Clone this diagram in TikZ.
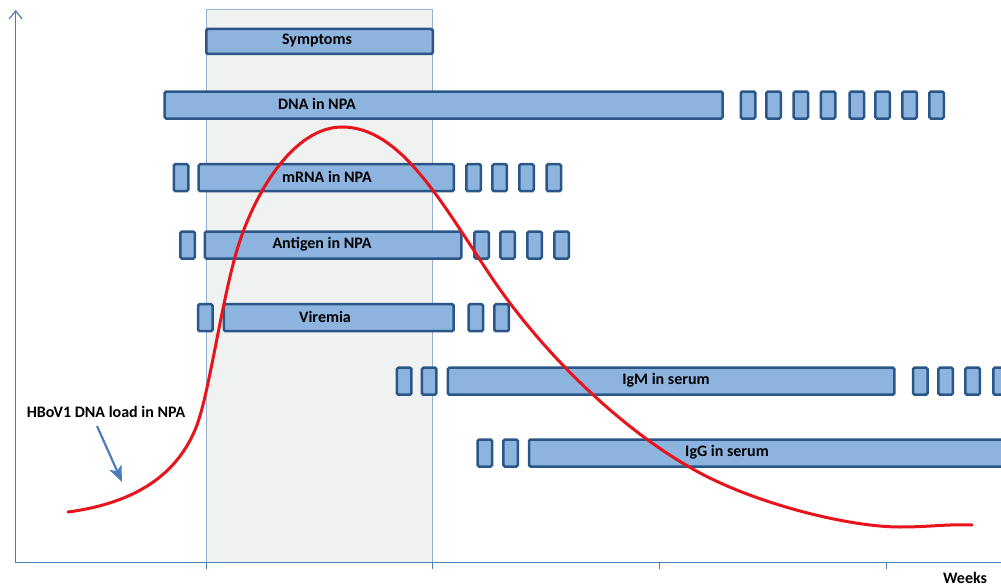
\documentclass[tikz,border=0pt]{standalone}
\usepackage{fontspec}
\setmainfont{Carlito}
\usepackage{tikz}
\usetikzlibrary{arrows.meta}

\definecolor{barfill}{HTML}{8DB3DF}
\definecolor{bardraw}{HTML}{2A5788}
\definecolor{axisblue}{HTML}{4A7EBB}
\definecolor{shadefill}{HTML}{F0F1F1}
\definecolor{shadeline}{HTML}{94B0D4}
\definecolor{loadred}{HTML}{E8141B}

\begin{document}
\begin{tikzpicture}[x=1pt, y=-1pt, semithick]
    \tikzstyle{bar}=[rectangle, draw=bardraw, fill=barfill, line width=2.5pt, rounded corners=1.5pt, minimum height=27pt, inner sep=0pt]
    \tikzstyle{blk}=[bar, minimum width=14.5pt]
    \tikzstyle{lab}=[inner sep=1pt, font=\fontsize{16}{18}\selectfont\bfseries]
    \tikzstyle{axis}=[draw=axisblue, line width=1.2pt]
    \tikzstyle{curve}=[draw=loadred, line width=3pt, line cap=round]

    \useasboundingbox (0,0) rectangle (1001,586);

    % symptomatic period
    \node[rectangle, draw=shadeline, fill=shadefill, line width=0.8pt, minimum width=226pt, minimum height=553pt, inner sep=0pt] (period) at (319.5,286.2) {};

    % axes
    \coordinate (o) at (15.7,562.7);
    \coordinate (ytop) at (15.7,10);
    \coordinate (xend) at (1004,562.7);
    \draw[axis, -{Straight Barb[length=8pt,width=13pt]}] (o) -- (ytop);
    \draw[axis] (o) -- (xend);
    \draw[axis] (206.5,562.7) -- (206.5,569);
    \draw[axis] (432.5,562.7) -- (432.5,569);
    \draw[axis] (659.3,562.7) -- (659.3,569);
    \draw[axis] (886.7,562.7) -- (886.7,569);
    \node[lab, anchor=base] (weeks) at (965,583) {Weeks};

    % Symptoms
    \node[bar, minimum width=226.5pt, minimum height=25pt] (symp) at (319.5,41.5) {};
    \node[lab] (symplab) at (317,41) {Symptoms};

    % DNA in NPA
    \node[bar, minimum width=558pt] (dna) at (443.6,105) {};
    \node[blk] (dna1) at (748,105) {};
    \node[blk] (dna2) at (773.7,105) {};
    \node[blk] (dna3) at (800.8,105) {};
    \node[blk] (dna4) at (828,105) {};
    \node[blk] (dna5) at (856.8,105) {};
    \node[blk] (dna6) at (882.7,105) {};
    \node[blk] (dna7) at (909.7,105) {};
    \node[blk] (dna8) at (936.7,105) {};
    \node[lab] (dnalab) at (317,104) {DNA in NPA};

    % mRNA in NPA
    \node[blk] (mrna0) at (181,177.7) {};
    \node[bar, minimum width=255.2pt] (mrna) at (326.2,177.7) {};
    \node[blk] (mrna1) at (473.7,177.7) {};
    \node[blk] (mrna2) at (499.7,177.7) {};
    \node[blk] (mrna3) at (526.5,177.7) {};
    \node[blk] (mrna4) at (553.8,177.7) {};
    \node[lab] (mrnalab) at (327,177) {mRNA in NPA};

    % Antigen in NPA
    \node[blk] (ag0) at (187.7,245) {};
    \node[bar, minimum width=256.5pt] (ag) at (333.2,245) {};
    \node[blk] (ag1) at (481.7,245) {};
    \node[blk] (ag2) at (507.7,245) {};
    \node[blk] (ag3) at (534.7,245) {};
    \node[blk] (ag4) at (561.7,245) {};
    \node[lab] (aglab) at (322,244.5) {Antigen in NPA};

    % Viremia
    \node[blk] (vir0) at (205.3,317.7) {};
    \node[bar, minimum width=229.8pt] (vir) at (338.8,317.7) {};
    \node[blk] (vir1) at (475.8,317.7) {};
    \node[blk] (vir2) at (501.7,317.7) {};
    \node[lab] (virlab) at (325,317) {Viremia};

    % IgM in serum
    \node[blk] (igm0) at (404.2,381.2) {};
    \node[blk] (igm00) at (429.2,381.2) {};
    \node[bar, minimum width=446.5pt] (igm) at (671.2,381.2) {};
    \node[blk] (igm1) at (920.3,381.2) {};
    \node[blk] (igm2) at (945.7,381.2) {};
    \node[blk] (igm3) at (972.7,381.2) {};
    \node[blk] (igm4) at (1000.5,381.2) {};
    \node[lab] (igmlab) at (666,380) {IgM in serum};

    % IgG in serum
    \node[blk] (igg0) at (484.8,453) {};
    \node[blk] (igg00) at (510.7,453) {};
    \node[bar, minimum width=480pt] (igg) at (769,453) {};
    \node[lab] (igglab) at (727,452) {IgG in serum};

    % DNA load
    \draw[curve] (68,512) .. controls (135,503) and (178,475) .. (197,425)
        .. controls (209,393) and (222,300) .. (237,250)
        .. controls (255,190) and (295,127) .. (342,127)
        .. controls (400,127) and (440,200) .. (490,275)
        .. controls (540,350) and (620,430) .. (700,473)
        .. controls (760,505) and (850,527) .. (900,527)
        .. controls (930,527) and (945,524) .. (972,525);

    \node[lab] (load) at (106,412) {HBoV1 DNA load in NPA};
    \coordinate (loadtip) at (122,482);
    \draw[draw=axisblue, line width=2.2pt, -{Stealth[length=16pt,width=13pt,inset=4pt]}] ([xshift=-9pt,yshift=-7pt]load.south) -- (loadtip);
\end{tikzpicture}
\end{document}
